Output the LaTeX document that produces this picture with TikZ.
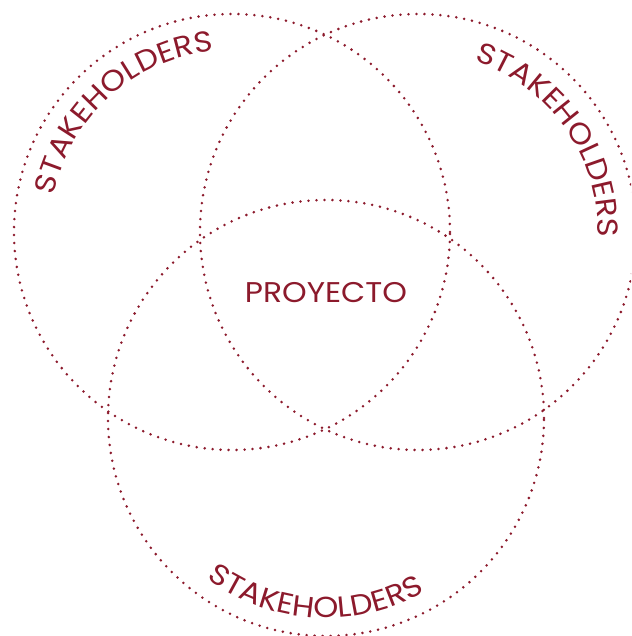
\documentclass[tikz,border=0pt]{standalone}
\usepackage{fontspec}
\setmainfont{Poppins}
\newfontfamily\ringfont[FakeStretch=1.1]{Poppins}
\usetikzlibrary{decorations.text}
\definecolor{vino}{RGB}{140,26,44}

\begin{document}
\begin{tikzpicture}[x=1pt,y=1pt,
    ring/.style={draw=vino,line width=2.8pt,line cap=round,dash pattern=on 0pt off 8pt},
    arctext/.style={decorate,decoration={text along path,text align=center,
        text color=vino,text={|\ringfont\fontsize{29}{33}\selectfont|#1}}}]
    \useasboundingbox (0,0) rectangle (631,636);
    \clip (0,0) rectangle (631,636);
    \coordinate (L) at (232,404);
    \coordinate (R) at (418,404);
    \coordinate (B) at (326,218);

    \draw[ring] (L) circle [radius=218pt];
    \draw[ring] (R) circle [radius=218pt];
    \draw[ring] (B) circle [radius=218pt];

    \node[text=vino,font=\ringfont\fontsize{28.5}{32}\selectfont] (proyecto) at (326,343) {PROYECTO};

    % labels along the rings
    \path[arctext={STAKEHOLDERS}] (L) ++(184:182pt) arc[start angle=184,end angle=80,radius=182pt];
    \path[arctext={STAKEHOLDERS}] (R) ++(86:180pt) arc[start angle=86,end angle=-16,radius=180pt];
    \path[arctext={STAKEHOLDERS}] (B) ++(224:200pt) arc[start angle=224,end angle=309,radius=200pt];
\end{tikzpicture}
\end{document}
